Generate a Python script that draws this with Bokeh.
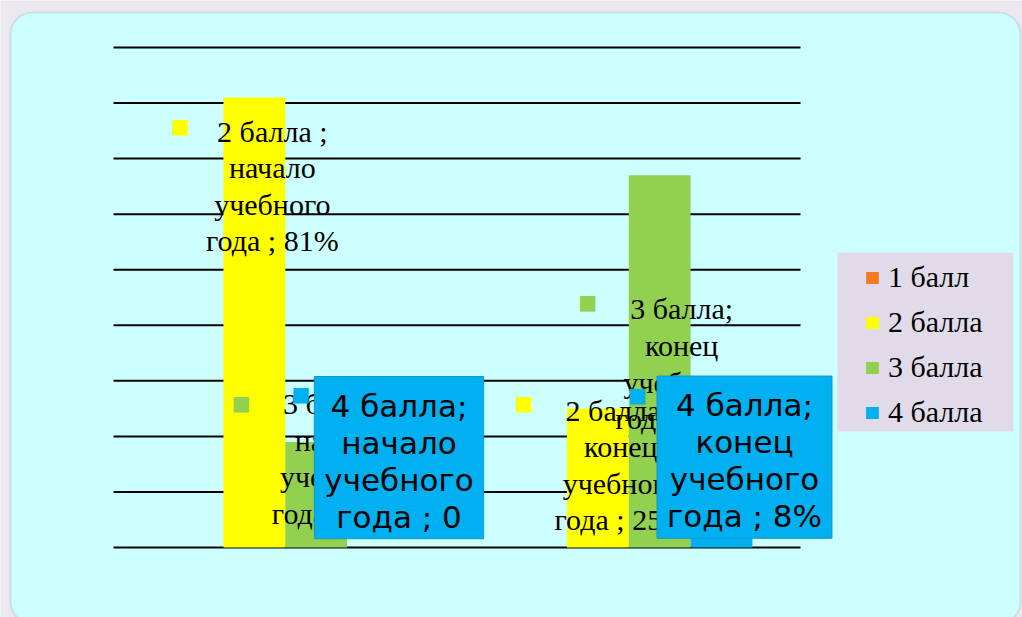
from bokeh.plotting import figure
from bokeh.models import ColumnDataSource, Range1d, BoxAnnotation, Legend, LegendItem
from bokeh.transform import dodge
from bokeh.core.properties import value
from bokeh.embed import file_html
from bokeh.resources import INLINE

# ---------------- data ----------------
categories = ["начало учебного года", "конец учебного года"]
series_names = ["1 балл", "2 балла", "3 балла", "4 балла"]
series_colors = ["#f47b20", "#ffff00", "#92d050", "#00b0f0"]
values_1 = [0, 0]
values_2 = [81, 25]
values_3 = [19, 67]
values_4 = [0, 8]
grid_ticks = [0, 10, 20, 30, 40, 50, 60, 70, 80, 90]
all_values = [values_1, values_2, values_3, values_4]

# ---------------- layout ----------------
W, H = 1022, 617
PLOT_L, PLOT_R = 113, 800      # canvas px of plot area (x = 0 .. n categories)
PLOT_B, PLOT_T = 547, 47       # canvas px of y = 0 and y = top grid tick
n_cat = len(categories)
px_x = (PLOT_R - PLOT_L) / n_cat
px_y = (PLOT_B - PLOT_T) / grid_ticks[-1]

p = figure(width=W, height=H, output_backend="svg", toolbar_location=None,
           x_range=Range1d(-PLOT_L / px_x, (W - PLOT_L) / px_x),
           y_range=Range1d(-(H - PLOT_B) / px_y, PLOT_B / px_y),
           x_axis_type=None, y_axis_type=None,
           min_border=0, min_border_left=0, min_border_right=0,
           min_border_top=0, min_border_bottom=0)
p.outline_line_color = None
p.background_fill_color = "#ebe9ee"
p.border_fill_color = "#ebe9ee"
p.xgrid.visible = False
p.ygrid.visible = False

# screen units: x from left, y from bottom
panel = BoxAnnotation(left=10, right=1020, top=H - 12, bottom=-6,
                      left_units="screen", right_units="screen",
                      top_units="screen", bottom_units="screen",
                      fill_color="#ccffff", fill_alpha=1.0,
                      line_color="#aaa6cc", line_width=2,
                      border_radius=22, level="underlay")
p.add_layout(panel)

legend_bg = BoxAnnotation(left=837, right=1013, top=H - 252, bottom=H - 431,
                          left_units="screen", right_units="screen",
                          top_units="screen", bottom_units="screen",
                          fill_color="#e1dbe9", fill_alpha=1.0,
                          line_color=None, level="underlay")
p.add_layout(legend_bg)

# grid lines across the plot area
p.segment(x0=[0] * len(grid_ticks), x1=[n_cat] * len(grid_ticks),
          y0=grid_ticks, y1=grid_ticks, line_color="black", line_width=2)

# bars
cat_x = [i + 0.5 for i in range(n_cat)]
bar_w = 0.18
offsets = [(-1.5 + k) * bar_w for k in range(4)]
bars = []
for k in range(4):
    src = ColumnDataSource(dict(x=cat_x, top=all_values[k]))
    r = p.vbar(x=dodge("x", offsets[k], range=p.x_range), top="top", width=bar_w,
               source=src, fill_color=series_colors[k], line_color=None)
    bars.append(r)

# data labels
seps = {(1, 0): " ;", (1, 1): " ;", (2, 0): " ;", (2, 1): ";", (3, 0): ";", (3, 1): ";"}
label_dx = {(1, 0): 18, (1, 1): 23, (2, 0): 22, (2, 1): 22, (3, 0): 21, (3, 1): 23}
label_dy = {(1, 0): 17, (1, 1): -15, (2, 0): -55, (2, 1): 117, (3, 0): -171, (3, 1): -127}
key_dx = {(1, 0): -74, (1, 1): -74, (2, 0): -75, (2, 1): -72, (3, 0): -77, (3, 1): -84}
key_dy = {(1, 0): 28, (1, 1): -6, (2, 0): -39, (2, 1): 127, (3, 0): -154, (3, 1): -108}


def fmt(v):
    return f"{v}%" if v else "0"


for k in (1, 2, 3):
    xs, ys, texts, dxs, dys, kdx, kdy = [], [], [], [], [], [], []
    for c in range(n_cat):
        v = all_values[k][c]
        xs.append(cat_x[c] + offsets[k])
        ys.append(v)
        cat_lines = categories[c].replace(" ", "\n")
        texts.append(f"{series_names[k]}{seps[(k, c)]}\n{cat_lines} ; {fmt(v)}")
        dxs.append(label_dx[(k, c)])
        dys.append(label_dy[(k, c)])
        kdx.append(key_dx[(k, c)])
        kdy.append(key_dy[(k, c)])
    src = ColumnDataSource(dict(x=xs, y=ys, text=texts, dx=dxs, dy=dys,
                                kdx=kdx, kdy=kdy, key=["■"] * len(xs)))
    p.text(x="x", y="y", text="key", x_offset="kdx", y_offset="kdy", source=src,
           text_color=series_colors[k], text_font=value("DejaVu Sans"),
           text_font_size="20px", text_align="center", text_baseline="middle")
    if k < 3:
        p.text(x="x", y="y", text="text", x_offset="dx", y_offset="dy", source=src,
               text_color="black", text_font=value("Liberation Serif"),
               text_font_size="30px", text_align="center", text_baseline="top",
               text_line_height=1.11)
    else:
        p.text(x="x", y="y", text="text", x_offset="dx", y_offset="dy", source=src,
               text_color="black", text_font=value("DejaVu Sans"),
               text_font_size="31px", text_align="center", text_baseline="top",
               text_line_height=1.03, background_fill_color=series_colors[k],
               border_line_color="#1598c8", border_line_width=1,
               padding=dict(left=10, right=10, top=11, bottom=4))

legend = Legend(items=[LegendItem(label=series_names[k], renderers=[bars[k]]) for k in range(4)],
                location=(864, 188), padding=0, margin=0, spacing=11,
                glyph_width=16, glyph_height=15, label_standoff=8,
                label_text_font="Liberation Serif", label_text_font_size="30px",
                label_text_color="black",
                background_fill_alpha=0, border_line_color=None)
p.add_layout(legend)

open("out.html", "w").write(file_html(p, INLINE))
